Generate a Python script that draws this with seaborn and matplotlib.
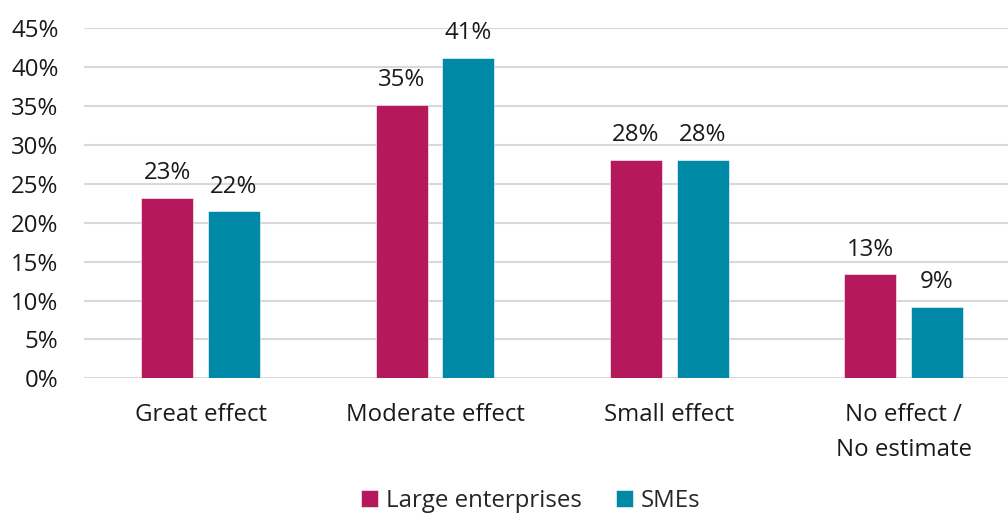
import matplotlib
matplotlib.use("Agg")
import matplotlib.pyplot as plt
import seaborn as sns
import pandas as pd

categories = ["Great effect", "Moderate effect", "Small effect", "No effect /\nNo estimate"]
large_enterprises = [23.2, 35.2, 28.1, 13.4]
smes = [21.5, 41.2, 28.1, 9.2]
series_names = ["Large enterprises", "SMEs"]
y_ticks = [0, 5, 10, 15, 20, 25, 30, 35, 40, 45]

colors = {"Large enterprises": "#B5195B", "SMEs": "#0089A7"}

df = pd.DataFrame({
    "category": categories * 2,
    "value": large_enterprises + smes,
    "series": [series_names[0]] * len(categories) + [series_names[1]] * len(categories),
})

sns.set_theme(style="white")
plt.rcParams["font.family"] = ["Open Sans", "DejaVu Sans"]

FS = 17.3
TXT = "#1a1a1a"

fig = plt.figure(figsize=(10.08, 5.13), dpi=100)
ax = fig.add_axes([83.5 / 1008, (513 - 378.3) / 513, (1008 - 83.5) / 1008, (378.3 - 28.3) / 513])

sns.barplot(data=df, x="category", y="value", hue="series", order=categories,
            hue_order=series_names, palette=colors, saturation=1, width=0.57, gap=0.22,
            edgecolor="white", linewidth=0.4, ax=ax, legend=True)

ax.set_ylim(0, 45)
ax.set_xlim(-0.5, (1008 - 83.5) / 234.3 - 0.5)
ax.set_yticks(y_ticks)
ax.set_yticklabels([f"{t}%" for t in y_ticks])
ax.grid(axis="y", color="#d9d9d9", linewidth=1.5)
ax.set_axisbelow(True)
for s in ax.spines.values():
    s.set_visible(False)
ax.set_xlabel("")
ax.set_ylabel("")
ax.tick_params(axis="y", length=0, pad=18, labelsize=FS, labelcolor=TXT)
ax.tick_params(axis="x", length=0, pad=18, labelsize=FS, labelcolor=TXT)
for lbl in ax.get_xticklabels():
    lbl.set_linespacing(1.6)

for cont in ax.containers:
    ax.bar_label(cont, labels=[f"{v:.0f}%" for v in cont.datavalues],
                 padding=9, fontsize=FS, color=TXT)

handles, labels = ax.get_legend_handles_labels()
ax.get_legend().remove()
fig.legend(handles, labels, loc="lower center", bbox_to_anchor=(531 / 1008, -0.042),
           ncol=2, frameon=False, fontsize=FS, handlelength=0.7, handleheight=0.7,
           handletextpad=0.35, columnspacing=1.4)

fig.savefig("out.png", dpi=100)
